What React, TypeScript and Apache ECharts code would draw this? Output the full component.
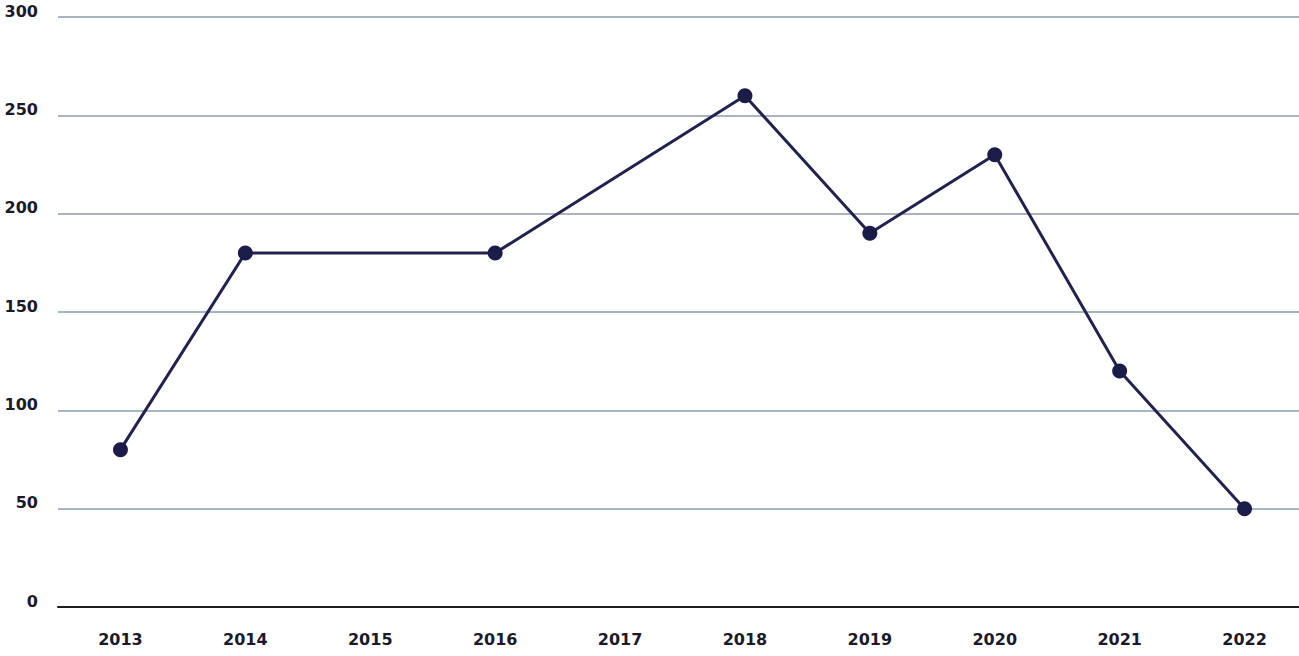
import React, { useEffect, useRef } from "react";
import * as echarts from "echarts";

const years = ["2013", "2014", "2015", "2016", "2017", "2018", "2019", "2020", "2021", "2022"];
const values: (number | null)[] = [80, 180, null, 180, null, 260, 190, 230, 120, 50];
const yMin = 0;
const yMax = 300;
const yStep = 50;

export default function App() {
  const ref = useRef<HTMLDivElement>(null);
  useEffect(() => {
    document.body.style.margin = "0";
    const chart = echarts.init(ref.current!, null, { renderer: "svg" });
    chart.setOption({
      animation: false,
      backgroundColor: "#ffffff",
      grid: { left: 58, top: 17, right: 0, bottom: 49, containLabel: false },
      xAxis: {
        type: "category",
        data: years,
        boundaryGap: true,
        axisLine: { show: true, lineStyle: { color: "#1e1e1e", width: 2 } },
        axisTick: { show: false },
        axisLabel: {
          margin: 24,
          color: "#1a1a2a",
          fontFamily: "DejaVu Sans",
          fontWeight: "bold",
          fontSize: 16,
        },
        splitLine: { show: false },
      },
      yAxis: {
        type: "value",
        min: yMin,
        max: yMax,
        interval: yStep,
        axisLine: { show: false },
        axisTick: { show: false },
        axisLabel: {
          margin: 20,
          color: "#1a1a2a",
          fontFamily: "DejaVu Sans",
          fontWeight: "bold",
          fontSize: 16,
          verticalAlign: "bottom",
          lineHeight: 12,
        },
        splitLine: { show: true, lineStyle: { color: "#a9b4c2", width: 2 } },
      },
      series: [
        {
          type: "line",
          data: values,
          connectNulls: true,
          symbol: "circle",
          symbolSize: 15,
          lineStyle: { color: "#22224e", width: 3 },
          itemStyle: { color: "#1c1c48" },
        },
      ],
    });
    return () => chart.dispose();
  }, []);
  return (
    <div style={{ width: 1299, height: 656, overflow: "hidden", position: "relative" }}>
      <div ref={ref} style={{ width: 1307, height: 656 }} />
    </div>
  );
}
